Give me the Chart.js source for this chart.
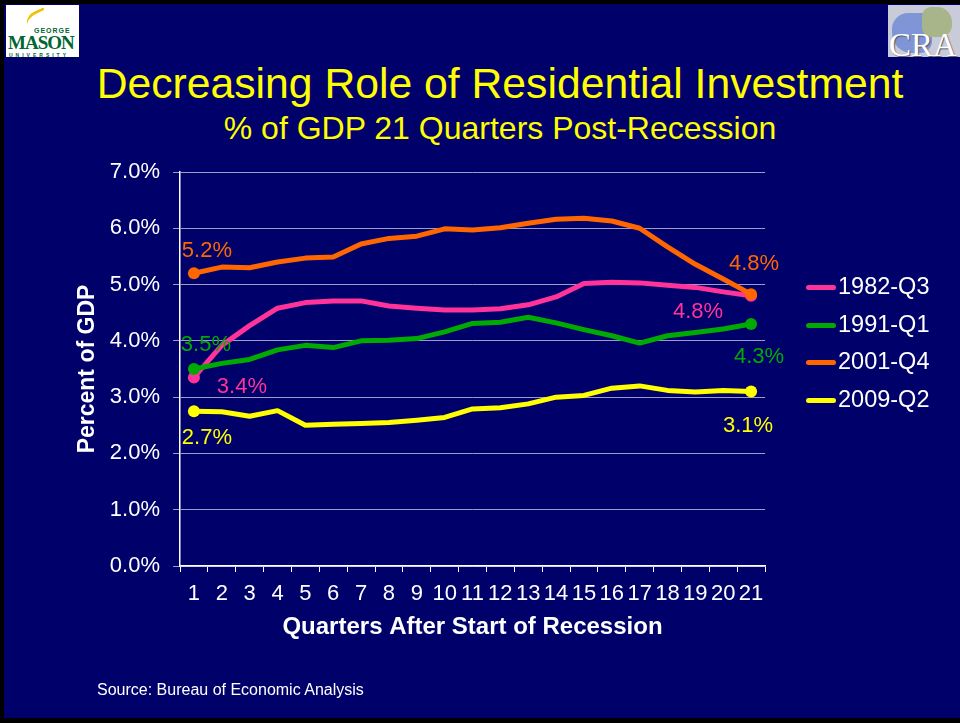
<!DOCTYPE html>
<html>
<head>
<meta charset="utf-8">
<script src="https://cdn.jsdelivr.net/npm/chart.js@4/dist/chart.umd.min.js"></script>
<style>
  html, body { margin: 0; padding: 0; }
  body { width: 960px; height: 723px; background: #000; position: relative; overflow: hidden; font-family: "Liberation Sans", Arial, sans-serif; }
  #slide { position: absolute; left: 4px; top: 4px; width: 956px; height: 714px; background: #00006b; }
  #chartWrap { position: absolute; left: 0; top: 0; width: 960px; height: 723px; }
  .title { position: absolute; left: 0; width: 1000px; text-align: center; color: #ffff00; white-space: nowrap; }
  #t1 { top: 59px; font-size: 42.7px; }
  #t2 { top: 110px; font-size: 32px; }
  #legend { position: absolute; left: 806px; top: 269px; }
  .lg { height: 37.5px; line-height: 35px; color: #fff; font-size: 23.5px; white-space: nowrap; }
  .lg span { display: inline-block; width: 30px; height: 5px; border-radius: 3px; vertical-align: middle; margin-right: 2px; }
  #source { position: absolute; left: 97px; top: 681px; color: #fff; font-size: 16px; }
  #gmu { position: absolute; left: 6px; top: 5px; width: 73px; height: 52px; background: #fff; }
  #gmu .g { position: absolute; left: 28px; top: 22px; font-size: 7px; font-weight: bold; color: #006633; letter-spacing: 1px; }
  #gmu .m { position: absolute; left: 2px; top: 27px; font-size: 19px; font-weight: bold; color: #006633; font-family: "Liberation Serif", serif; letter-spacing: -1px; }
  #gmu .u { position: absolute; left: 3px; top: 47px; font-size: 5px; font-weight: bold; color: #006633; letter-spacing: 3px; }
  #gmu .leaf { position: absolute; left: 20px; top: 6px; width: 22px; height: 14px; border-top: 3px solid #f2c200; border-radius: 60% 0 0 0; transform: rotate(-25deg); }
  #cra { position: absolute; left: 888px; top: 5px; width: 72px; height: 52px; background: #c9ccd8; overflow: hidden; }
  #cra .map1 { position: absolute; left: 4px; top: 8px; width: 40px; height: 40px; background: #7f95d6; border-radius: 40% 20% 30% 50%; }
  #cra .map2 { position: absolute; left: 34px; top: 2px; width: 30px; height: 30px; background: #a8b58a; border-radius: 30% 50% 40% 30%; }
  #cra .txt { position: absolute; left: 1px; top: 22px; font-size: 33px; color: #fff; font-family: "Liberation Serif", serif; text-shadow: 1px 1px 1px #556; }
</style>
</head>
<body>
<div id="slide"></div>
<div id="gmu"><div class="leaf"></div><div class="g">GEORGE</div><div class="m">MASON</div><div class="u">UNIVERSITY</div></div>
<div id="cra"><div class="map1"></div><div class="map2"></div><div class="txt">CRA</div></div>
<div class="title" id="t1">Decreasing Role of Residential Investment</div>
<div class="title" id="t2">% of GDP 21 Quarters Post-Recession</div>
<div id="chartWrap"><canvas id="myChart" width="960" height="723"></canvas></div>
<div id="legend"></div>
<div id="source">Source: Bureau of Economic Analysis</div>
<script>
document.addEventListener('DOMContentLoaded', () => {
    // quarters after start of recession
    var quarters = ['1','2','3','4','5','6','7','8','9','10','11','12','13','14','15','16','17','18','19','20','21']

    // residential investment as % of GDP, one list per recession
    var r1982 = [3.35, 3.92, 4.27, 4.58, 4.68, 4.71, 4.71, 4.62, 4.58, 4.55, 4.55, 4.57, 4.64, 4.78, 5.02, 5.04, 5.03, 4.99, 4.95, 4.87, 4.80]
    var r1991 = [3.50, 3.60, 3.67, 3.84, 3.92, 3.88, 4.00, 4.01, 4.04, 4.16, 4.31, 4.33, 4.42, 4.32, 4.20, 4.09, 3.96, 4.09, 4.15, 4.21, 4.30]
    var r2001 = [5.20, 5.31, 5.30, 5.40, 5.47, 5.49, 5.72, 5.82, 5.86, 5.99, 5.97, 6.01, 6.09, 6.16, 6.18, 6.13, 6.00, 5.67, 5.36, 5.10, 4.83]
    var r2009 = [2.75, 2.74, 2.66, 2.76, 2.50, 2.52, 2.53, 2.55, 2.59, 2.64, 2.79, 2.81, 2.88, 3.00, 3.03, 3.16, 3.20, 3.12, 3.09, 3.12, 3.10]

    var seriesNames = ['1982-Q3', '1991-Q1', '2001-Q4', '2009-Q2']
    var seriesColors = ['#ff3399', '#00aa00', '#ff6600', '#ffff00']
    // label text shown at the first and last point
    var firstLabels = ['3.4%', '3.5%', '5.2%', '2.7%']
    var lastLabels = ['4.8%', '4.3%', '4.8%', '3.1%']

    // offsets of the end labels from their points (pixels)
    var firstOffsets = [[48, 9], [12, -24], [13, -22], [13, 27]]
    var lastOffsets = [[-53, 16], [8, 33], [3, -30], [-3, 34]]

    var ticksFont = { family: 'Liberation Sans', size: 22 }

    // draws the value labels next to the end points
    var endLabels = {
        id: 'endLabels',
        afterDatasetsDraw(chart) {
            var ctx = chart.ctx
            ctx.save()
            ctx.font = '22px "Liberation Sans"'
            ctx.textAlign = 'center'
            ctx.textBaseline = 'middle'
            chart.data.datasets.forEach((ds, i) => {
                var pts = chart.getDatasetMeta(i).data
                var a = pts[0], b = pts[pts.length - 1]
                ctx.fillStyle = ds.borderColor
                ctx.fillText(firstLabels[i], a.x + firstOffsets[i][0], a.y + firstOffsets[i][1])
                ctx.fillText(lastLabels[i], b.x + lastOffsets[i][0], b.y + lastOffsets[i][1])
            })
            ctx.restore()
        }
    }

    var values = [r1982, r1991, r2001, r2009]
    var datasets = values.map((v, i) => ({
        label: seriesNames[i],
        data: v,
        borderColor: seriesColors[i],
        backgroundColor: seriesColors[i],
        borderWidth: 5,
        borderCapStyle: 'round',
        borderJoinStyle: 'round',
        tension: 0,
        order: 3 - i,
        pointRadius: (c) => (c.dataIndex === 0 || c.dataIndex === v.length - 1) ? 6 : 0,
        pointBorderWidth: 0
    }))

    let ctx = document.getElementById('myChart').getContext('2d')
    var chart = new Chart(ctx, {
        type: 'line',
        data: { labels: quarters, datasets: datasets },
        plugins: [endLabels],
        options: {
            responsive: false,
            animation: false,
            layout: { padding: { left: 70, top: 172, right: 195, bottom: 77 } },
            plugins: { legend: { display: false }, tooltip: { enabled: false } },
            scales: {
                x: {
                    offset: true,
                    grid: { offset: true, drawOnChartArea: false, color: '#ffffff', tickLength: 6, tickColor: '#ffffff' },
                    border: { color: '#ffffff', width: 1.5 },
                    ticks: { color: '#ffffff', font: ticksFont, autoSkip: false, maxRotation: 0, padding: 9 },
                    title: { display: true, text: 'Quarters After Start of Recession', color: '#ffffff', font: { family: 'Liberation Sans', size: 24, weight: 'bold' }, padding: { top: 0 } },
                    afterFit: (s) => { s.height = 80 }
                },
                y: {
                    min: 0, max: 7,
                    grid: { color: '#9c9cc8', lineWidth: 1, tickLength: 7 },
                    border: { color: '#ffffff', width: 1.5 },
                    ticks: { stepSize: 1, color: '#ffffff', font: ticksFont, padding: 13, callback: (v) => v.toFixed(1) + '%' },
                    title: { display: true, text: 'Percent of GDP', color: '#ffffff', font: { family: 'Liberation Sans', size: 23, weight: 'bold' }, padding: { top: 4 } },
                    afterFit: (s) => { s.width = 110 }
                }
            }
        }
    })

    // legend built from the datasets
    var lg = document.getElementById('legend')
    chart.data.datasets.forEach((ds) => {
        var d = document.createElement('div')
        d.className = 'lg'
        d.innerHTML = '<span style="background:' + ds.borderColor + '"></span>' + ds.label
        lg.appendChild(d)
    })
})
</script>
</body>
</html>
